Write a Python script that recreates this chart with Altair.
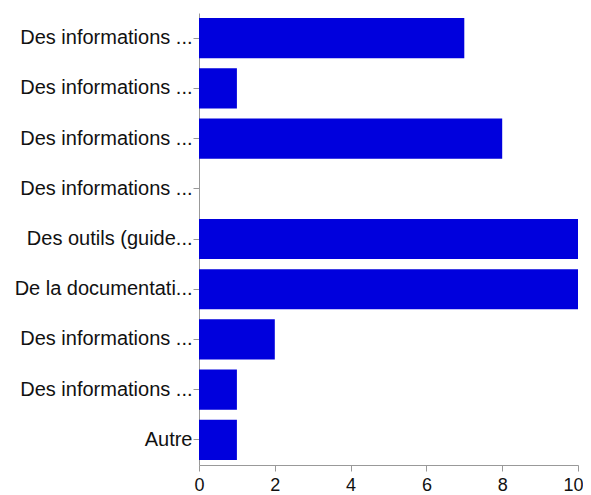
import altair as alt
import pandas as pd

labels = [
    "Des informations ...",
    "Des informations ...",
    "Des informations ...",
    "Des informations ...",
    "Des outils (guide...",
    "De la documentati...",
    "Des informations ...",
    "Des informations ...",
    "Autre",
]
values = [7, 1, 8, 0, 10, 10, 2, 1, 1]

df = pd.DataFrame({"key": [str(i) for i in range(len(labels))], "label": labels, "value": values})
label_arr = "[" + ",".join("'" + l + "'" for l in labels) + "]"
order = [str(i) for i in range(len(labels))]

chart = alt.Chart(df).mark_bar(color="#0000DD").encode(
    x=alt.X("value:Q", scale=alt.Scale(domain=[0, 10], nice=False),
            axis=alt.Axis(title=None, values=[0, 2, 4, 6, 8, 10], grid=False,
                          domainColor="#999999", tickColor="#999999", tickSize=6,
                          labelFontSize=18, labelColor="#111111", labelFont="Liberation Sans",
                          labelPadding=5, labelFlush=True, labelFlushOffset=5,
                          labelOverlap=False)),
    y=alt.Y("key:N", sort=order, scale=alt.Scale(paddingInner=0.2, paddingOuter=0.1),
            axis=alt.Axis(title=None, labelExpr=label_arr + "[toNumber(datum.value)]",
                          domainColor="#999999", tickColor="#999999", tickSize=6,
                          labelFontSize=20, labelColor="#111111", labelFont="Liberation Sans",
                          labelPadding=1, labelLimit=300)),
).properties(
    width=379, height=452,
    autosize=alt.AutoSizeParams(type="none"),
    padding={"left": 191, "top": 5, "right": 5, "bottom": 30},
).configure_view(stroke=None)

chart.save("out.html", embed_options={"renderer": "svg", "actions": False})
